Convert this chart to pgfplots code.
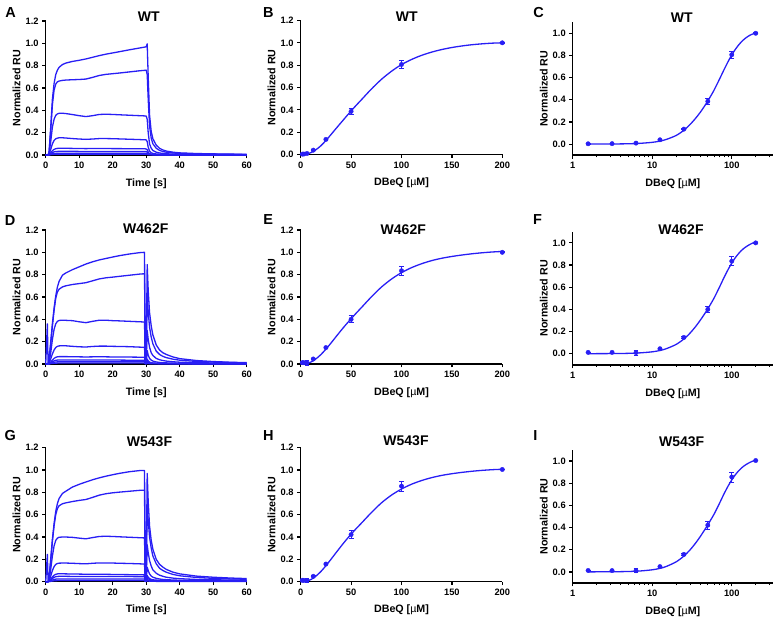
\documentclass[border=0pt]{standalone}
\usepackage{fontspec}
\setmainfont{Liberation Sans}
\usepackage{pgfplots}
\usepackage{pgfplotstable}
\pgfplotsset{compat=1.18}
\definecolor{cblue}{RGB}{40,30,245}

% ---------- sensorgram tables (time, 8 concentrations high->low) ----------
\pgfplotstableread{
t c1 c2 c3 c4 c5 c6 c7 c8
0 0 0 0 0 0 0 0 0
0.5 0 0 0 0 0 0 0 0
0.7 0.002 0.002 0.001 0.001 0 0 0 0
1 0.02 0.02 0.01 0.005 0.003 0.002 0.001 0.001
1.5 0.25 0.22 0.12 0.05 0.02 0.012 0.006 0.003
2 0.5 0.45 0.25 0.1 0.038 0.022 0.011 0.005
2.5 0.64 0.58 0.32 0.13 0.05 0.028 0.013 0.006
3 0.72 0.635 0.355 0.145 0.056 0.031 0.014 0.007
3.5 0.76 0.655 0.368 0.151 0.059 0.032 0.015 0.007
4 0.785 0.662 0.373 0.154 0.06 0.033 0.015 0.007
5 0.81 0.668 0.374 0.154 0.06 0.033 0.015 0.007
6 0.823 0.671 0.371 0.152 0.06 0.033 0.015 0.007
8 0.838 0.674 0.362 0.147 0.059 0.033 0.015 0.007
10 0.848 0.676 0.352 0.143 0.058 0.032 0.015 0.007
12 0.86 0.68 0.344 0.14 0.057 0.032 0.015 0.007
14 0.875 0.695 0.352 0.143 0.058 0.032 0.015 0.007
16 0.89 0.712 0.363 0.147 0.058 0.032 0.015 0.007
18 0.903 0.722 0.365 0.147 0.058 0.032 0.015 0.007
20 0.914 0.728 0.363 0.146 0.057 0.032 0.015 0.007
22 0.925 0.734 0.36 0.144 0.057 0.032 0.015 0.007
25 0.942 0.744 0.356 0.141 0.056 0.031 0.015 0.007
28 0.958 0.754 0.352 0.138 0.055 0.031 0.015 0.007
29.5 0.966 0.758 0.35 0.136 0.055 0.031 0.015 0.007
29.7 0.967 0.759 0.35 0.136 0.055 0.031 0.015 0.007
30 0.97 0.76 0.349 0.135 0.054 0.031 0.015 0.007
30.3 0.995 0.72 0.32 0.12 0.048 0.026 0.012 0.005
30.6 0.7 0.5 0.2 0.07 0.026 0.014 0.007 0.003
31 0.36 0.26 0.1 0.035 0.013 0.008 0.004 0.002
31.5 0.21 0.15 0.06 0.02 0.008 0.005 0.003 0.002
32 0.145 0.1 0.04 0.014 0.006 0.004 0.002 0.001
33 0.088 0.06 0.025 0.009 0.004 0.003 0.002 0.001
34 0.06 0.041 0.018 0.007 0.003 0.002 0.001 0.001
35 0.045 0.031 0.014 0.005 0.003 0.002 0.001 0.001
36 0.035 0.025 0.011 0.004 0.002 0.002 0.001 0.001
38 0.025 0.018 0.008 0.003 0.002 0.001 0.001 0.001
40 0.019 0.014 0.007 0.003 0.002 0.001 0.001 0.001
45 0.013 0.01 0.005 0.002 0.001 0.001 0.001 0
50 0.01 0.008 0.004 0.002 0.001 0.001 0 0
55 0.008 0.006 0.003 0.002 0.001 0.001 0 0
60 0.006 0.005 0.003 0.001 0.001 0 0 0
}\sgWT

\pgfplotstableread{
t c1 c2 c3 c4 c5 c6 c7 c8
0 0 0 0 0 0 0 0 0
0.5 0.36 0 0 0 0 0 0 0
0.7 0.01 0.002 0.001 0.001 0 0 0 0
1 0.03 0.025 0.012 0.006 0.003 0.002 0.001 0.001
1.5 0.2 0.18 0.1 0.045 0.018 0.011 0.006 0.003
2 0.36 0.34 0.22 0.09 0.035 0.02 0.011 0.005
2.5 0.5 0.48 0.31 0.125 0.05 0.028 0.015 0.006
3 0.61 0.59 0.36 0.148 0.06 0.033 0.018 0.007
3.5 0.69 0.645 0.382 0.158 0.064 0.035 0.019 0.008
4 0.74 0.67 0.39 0.162 0.066 0.036 0.02 0.008
5 0.795 0.69 0.392 0.164 0.066 0.036 0.02 0.008
6 0.815 0.7 0.391 0.163 0.066 0.036 0.02 0.008
8 0.845 0.712 0.388 0.158 0.065 0.036 0.02 0.008
10 0.87 0.72 0.378 0.154 0.064 0.035 0.02 0.008
12 0.895 0.728 0.37 0.152 0.063 0.035 0.02 0.008
14 0.915 0.745 0.382 0.157 0.064 0.035 0.02 0.008
16 0.932 0.762 0.392 0.16 0.064 0.035 0.02 0.008
18 0.945 0.772 0.392 0.16 0.064 0.035 0.02 0.008
20 0.958 0.778 0.388 0.158 0.063 0.035 0.02 0.008
22 0.97 0.785 0.386 0.157 0.063 0.035 0.02 0.008
25 0.985 0.795 0.382 0.155 0.062 0.034 0.02 0.008
28 0.997 0.805 0.378 0.151 0.061 0.034 0.02 0.008
29.5 1.0 0.808 0.376 0.15 0.06 0.034 0.02 0.008
29.7 0.06 0.05 0.03 0.015 0.008 0.005 0.003 0.002
30 0.05 0.04 0.025 0.012 0.006 0.004 0.003 0.002
30.3 0.89 0.62 0.3 0.12 0.045 0.025 0.012 0.005
30.6 0.66 0.47 0.22 0.08 0.028 0.015 0.008 0.004
31 0.46 0.33 0.15 0.05 0.017 0.01 0.006 0.003
31.5 0.34 0.24 0.1 0.035 0.012 0.008 0.005 0.003
32 0.26 0.18 0.076 0.026 0.009 0.006 0.004 0.003
33 0.17 0.115 0.05 0.018 0.007 0.005 0.004 0.002
34 0.125 0.085 0.038 0.014 0.006 0.004 0.003 0.002
35 0.1 0.068 0.031 0.011 0.005 0.004 0.003 0.002
36 0.085 0.057 0.026 0.01 0.005 0.004 0.003 0.002
38 0.063 0.043 0.02 0.008 0.004 0.003 0.002 0.002
40 0.048 0.034 0.016 0.007 0.004 0.003 0.002 0.002
45 0.031 0.023 0.012 0.005 0.003 0.003 0.002 0.001
50 0.022 0.017 0.009 0.004 0.003 0.002 0.002 0.001
55 0.016 0.013 0.007 0.004 0.003 0.002 0.001 0.001
60 0.012 0.01 0.006 0.003 0.002 0.002 0.001 0.001
}\sgD

\pgfplotstableread{
t c1 c2 c3 c4 c5 c6 c7 c8
0 0 0 0 0 0 0 0 0
0.5 0.245 0 0 0 0 0 0 0
0.7 0.01 0.002 0.001 0.001 0 0 0 0
1 0.03 0.025 0.012 0.006 0.004 0.003 0.001 0.001
1.5 0.2 0.19 0.11 0.05 0.022 0.015 0.008 0.003
2 0.38 0.36 0.23 0.1 0.042 0.029 0.015 0.006
2.5 0.52 0.5 0.32 0.135 0.058 0.039 0.02 0.008
3 0.63 0.6 0.37 0.155 0.066 0.045 0.023 0.009
3.5 0.7 0.655 0.39 0.163 0.07 0.047 0.024 0.01
4 0.745 0.68 0.398 0.166 0.071 0.048 0.025 0.01
5 0.79 0.698 0.4 0.167 0.071 0.048 0.025 0.01
6 0.81 0.706 0.4 0.167 0.07 0.048 0.025 0.01
8 0.848 0.718 0.397 0.165 0.069 0.047 0.025 0.01
10 0.872 0.728 0.39 0.162 0.068 0.047 0.025 0.01
12 0.893 0.736 0.384 0.16 0.067 0.047 0.025 0.01
14 0.913 0.755 0.395 0.165 0.067 0.047 0.025 0.01
16 0.93 0.775 0.405 0.168 0.067 0.047 0.025 0.01
18 0.945 0.788 0.407 0.168 0.066 0.047 0.025 0.01
20 0.958 0.796 0.405 0.167 0.065 0.046 0.025 0.01
22 0.97 0.802 0.402 0.165 0.064 0.046 0.025 0.01
25 0.985 0.81 0.398 0.163 0.063 0.046 0.025 0.01
28 0.995 0.818 0.394 0.16 0.062 0.045 0.025 0.01
29.5 0.995 0.82 0.392 0.158 0.061 0.045 0.025 0.01
29.7 0.06 0.05 0.035 0.02 0.012 0.008 0.005 0.003
30 0.05 0.045 0.03 0.018 0.01 0.007 0.005 0.003
30.3 0.97 0.66 0.33 0.13 0.055 0.035 0.018 0.008
30.6 0.72 0.55 0.26 0.1 0.04 0.026 0.013 0.006
31 0.5 0.4 0.19 0.07 0.028 0.019 0.01 0.005
31.5 0.37 0.3 0.14 0.05 0.021 0.015 0.008 0.004
32 0.29 0.23 0.105 0.04 0.017 0.012 0.007 0.004
33 0.2 0.16 0.075 0.03 0.014 0.01 0.006 0.003
34 0.155 0.12 0.058 0.024 0.012 0.009 0.006 0.003
35 0.13 0.1 0.048 0.02 0.011 0.008 0.005 0.003
36 0.11 0.085 0.04 0.018 0.01 0.008 0.005 0.003
38 0.085 0.065 0.032 0.015 0.009 0.007 0.005 0.003
40 0.07 0.053 0.027 0.013 0.008 0.007 0.004 0.003
45 0.05 0.038 0.02 0.011 0.007 0.006 0.004 0.003
50 0.04 0.03 0.017 0.01 0.007 0.006 0.004 0.003
55 0.033 0.025 0.015 0.009 0.006 0.005 0.004 0.002
60 0.028 0.022 0.014 0.008 0.006 0.005 0.004 0.002
}\sgG

% ---------- steady-state data (conc, mean, sd) ----------
\pgfplotstableread{
x y e
1.5625 0.003 0.003
3.125 0.004 0.003
6.25 0.009 0.004
12.5 0.039 0.005
25 0.135 0.006
50 0.386 0.027
100 0.806 0.033
200 1.0 0.003
}\datWT
\pgfplotstableread{
x y e
1.5625 0.012 0.003
3.125 0.012 0.003
6.25 0.01 0.022
12.5 0.045 0.005
25 0.147 0.006
50 0.40 0.03
100 0.835 0.04
200 1.0 0.003
}\datD
\pgfplotstableread{
x y e
1.5625 0.013 0.003
3.125 0.012 0.003
6.25 0.011 0.02
12.5 0.048 0.005
25 0.158 0.006
50 0.422 0.035
100 0.856 0.045
200 1.005 0.003
}\datG

% ---------- fitted curves (linear axis, from 0) ----------
\pgfplotstableread{
x y
0 0
1.5625 0.0003
2.5 0.0008
3.5 0.0015
5 0.003
7 0.007
10 0.016
12.5 0.027
15 0.042
20 0.078
25 0.125
30 0.178
35 0.232
40 0.285
45 0.338
50 0.39
55 0.44
60 0.488
70 0.585
80 0.672
90 0.745
100 0.805
110 0.851
120 0.888
130 0.917
140 0.94
150 0.958
160 0.972
170 0.983
180 0.991
190 0.997
200 1.0
}\fitWT
\pgfplotstableread{
x y
0 0
1.5625 0.0003
2.5 0.0008
3.5 0.0016
5 0.0033
7 0.0075
10 0.017
12.5 0.029
15 0.045
20 0.084
25 0.133
30 0.187
35 0.244
40 0.3
45 0.354
50 0.405
55 0.455
60 0.503
70 0.6
80 0.688
90 0.76
100 0.818
110 0.863
120 0.898
130 0.926
140 0.947
150 0.963
160 0.976
170 0.987
180 0.996
190 1.003
200 1.008
}\fitD
\pgfplotstableread{
x y
0 0
1.5625 0.0003
2.5 0.0009
3.5 0.0018
5 0.0037
7 0.0083
10 0.019
12.5 0.032
15 0.049
20 0.091
25 0.143
30 0.2
35 0.259
40 0.317
45 0.373
50 0.425
55 0.475
60 0.522
70 0.618
80 0.705
90 0.775
100 0.83
110 0.873
120 0.906
130 0.932
140 0.952
150 0.967
160 0.979
170 0.989
180 0.997
190 1.003
200 1.007
}\fitG

\pgfplotsset{
  base/.style={
    scale only axis, clip=false,
    axis x line*=bottom, axis y line*=left,
    axis line style={line width=1.5pt, black},
    major tick style={line width=1.2pt, black},
    minor tick style={line width=0.9pt, black},
    tick align=outside,
    major tick length=3.5pt,
    minor tick length=2.2pt,
    /pgf/number format/assume math mode=true,
    tick label style={font=\bfseries\fontsize{9.3}{10}\selectfont},
    yticklabel style={/pgf/number format/fixed, /pgf/number format/fixed zerofill, /pgf/number format/precision=1},
    label style={font=\bfseries\fontsize{10.7}{12}\selectfont, inner sep=0pt},
    ylabel={Normalized RU},
    ylabel style={at={(axis description cs:-0.124,0.5)}, anchor=south},
    xlabel style={at={(axis description cs:0.5,0)}, anchor=north, yshift=-23.3pt},
  },
  lin/.style={base, ymin=0, ymax=1.2, ytick={0,0.2,0.4,0.6,0.8,1,1.2}, width=201pt, height=134pt},
  sens/.style={lin, xmin=0, xmax=60, xtick={0,10,20,30,40,50,60}, xlabel={Time [s]}},
  dose/.style={lin, width=201.6pt, xmin=0, xmax=200, xtick={0,50,100,150,200}, xlabel={DBeQ [\textmd{µ}M]}},
  logd/.style={base, xmin=1, xmax=330, ymin=-0.1, ymax=1.1, width=200.3pt, height=133pt,
    ytick={0,0.2,0.4,0.6,0.8,1}, xtick={1,10,100}, xticklabels={1,10,100},
    minor xtick={2,3,4,5,6,7,8,9,20,30,40,50,60,70,80,90,200,300},
    xlabel={DBeQ [\textmd{µ}M]}},
  sg/.style={cblue, line width=1.3pt, line join=round, forget plot},
  fitl/.style={cblue, line width=1.3pt, smooth, no markers},
  pts/.style={cblue, only marks, mark=*, mark size=2.2pt, mark options={fill=cblue, draw=cblue},
    error bars/y dir=both, error bars/y explicit,
    error bars/error bar style={line width=1pt, cblue},
    error bars/error mark options={rotate=90, mark size=2.4pt, line width=1pt, cblue}},
}
\tikzset{
  ttl/.style={font=\bfseries\fontsize{14}{15}\selectfont, inner sep=0pt},
  lett/.style={font=\bfseries\fontsize{14.5}{15}\selectfont, inner sep=0pt},
}

\begin{document}
\begin{tikzpicture}
\path[use as bounding box] (0,0) rectangle (774pt,617pt);

% ---------------- Row 1: WT ----------------
\begin{axis}[sens, at={(45.7pt,462pt)}, anchor=south west]
\pgfplotsinvokeforeach{c1,c2,c3,c4,c5,c6,c7,c8}{\addplot[sg] table[x=t,y=#1]{\sgWT};}
\end{axis}
\begin{axis}[dose, at={(300.7pt,462.5pt)}, anchor=south west]
\addplot[fitl] table[x=x,y=y]{\fitWT};
\addplot[pts] table[x=x,y=y,y error=e]{\datWT};
\end{axis}
\begin{semilogxaxis}[logd, at={(572.7pt,461.8pt)}, anchor=south west]
\addplot[fitl] table[x=x,y=y,skip first n=1]{\fitWT};
\addplot[pts] table[x=x,y=y,y error=e]{\datWT};
\end{semilogxaxis}

% ---------------- Row 2: W462F ----------------
\begin{axis}[sens, at={(45.7pt,253pt)}, anchor=south west]
\pgfplotsinvokeforeach{c1,c2,c3,c4,c5,c6,c7,c8}{\addplot[sg] table[x=t,y=#1]{\sgD};}
\end{axis}
\begin{axis}[dose, at={(300.7pt,253pt)}, anchor=south west]
\addplot[fitl] table[x=x,y=y]{\fitD};
\addplot[pts] table[x=x,y=y,y error=e]{\datD};
\end{axis}
\begin{semilogxaxis}[logd, at={(572.7pt,252.2pt)}, anchor=south west]
\addplot[fitl] table[x=x,y=y,skip first n=1]{\fitD};
\addplot[pts] table[x=x,y=y,y error=e]{\datD};
\end{semilogxaxis}

% ---------------- Row 3: W543F ----------------
\begin{axis}[sens, at={(45.7pt,35.3pt)}, anchor=south west]
\pgfplotsinvokeforeach{c1,c2,c3,c4,c5,c6,c7,c8}{\addplot[sg] table[x=t,y=#1]{\sgG};}
\end{axis}
\begin{axis}[dose, at={(300.7pt,35.3pt)}, anchor=south west]
\addplot[fitl] table[x=x,y=y]{\fitG};
\addplot[pts] table[x=x,y=y,y error=e]{\datG};
\end{axis}
\begin{semilogxaxis}[logd, at={(572.7pt,34pt)}, anchor=south west]
\addplot[fitl] table[x=x,y=y,skip first n=1]{\fitG};
\addplot[pts] table[x=x,y=y,y error=e]{\datG};
\end{semilogxaxis}

% titles
\node[ttl] at (148.8pt,600.3pt) {WT};
\node[ttl] at (406.7pt,600pt) {WT};
\node[ttl] at (681.8pt,599.5pt) {WT};
\node[ttl] at (145.8pt,388pt) {W462F};
\node[ttl] at (403.3pt,387.5pt) {W462F};
\node[ttl] at (681pt,387.3pt) {W462F};
\node[ttl] at (149.5pt,175.7pt) {W543F};
\node[ttl] at (406pt,176.5pt) {W543F};
\node[ttl] at (681.7pt,175.3pt) {W543F};
% panel letters
\node[lett] at (10.7pt,604.7pt) {A};
\node[lett] at (268.3pt,604.7pt) {B};
\node[lett] at (538.5pt,604.2pt) {C};
\node[lett] at (10pt,396.5pt) {D};
\node[lett] at (268.3pt,397pt) {E};
\node[lett] at (537.5pt,397pt) {F};
\node[lett] at (10.3pt,181.7pt) {G};
\node[lett] at (268.3pt,181.3pt) {H};
\node[lett] at (535.3pt,181.3pt) {I};
\end{tikzpicture}
\end{document}
